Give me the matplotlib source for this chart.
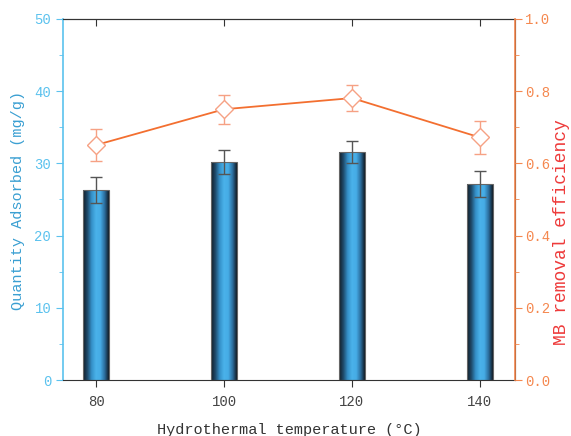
import numpy as np
import matplotlib
matplotlib.use("Agg")
import matplotlib.pyplot as plt
from matplotlib.colors import LinearSegmentedColormap

temps = [80, 100, 120, 140]
qty = [26.3, 30.2, 31.6, 27.2]
qty_err = [1.8, 1.7, 1.5, 1.8]
eff = [0.651, 0.750, 0.781, 0.672]
eff_err = [0.045, 0.040, 0.036, 0.045]
xticklabels = ["80", "100", "120", "140"]

FONT = "Liberation Mono"
plt.rcParams['font.family'] = [FONT, 'DejaVu Sans']

blue_ax = "#5bc2ee"
blue_lab = "#3a9fd2"
orange_ax = "#f5884f"
red_lab = "#ee3b3b"
line_col = "#f36f30"
mk_col = "#f6a184"

fig = plt.figure(figsize=(5.71, 4.36), dpi=100)
ax = fig.add_axes([63/571, 1-380/436, (515-63)/571, (380-19)/436])

bw = 4.0
bars = ax.bar(temps, qty, width=bw, color="none", edgecolor="#666666", linewidth=0.8, zorder=3)
cmap = LinearSegmentedColormap.from_list("g", ["#101a24", "#1f4a6a", "#3590c8", "#4ab2ea", "#46ace6", "#2c6e9e", "#101a24"])
grad = np.linspace(0, 1, 256).reshape(1, -1)
for b in bars:
    x0, w, h = b.get_x(), b.get_width(), b.get_height()
    im = ax.imshow(grad, cmap=cmap, aspect="auto", extent=[x0, x0 + w, 0, h], zorder=2)
    im.set_clip_path(b)
ax.errorbar(temps, qty, yerr=qty_err, fmt="none", ecolor="#555555", elinewidth=1, capsize=4, capthick=1, zorder=4)

ax.set_xlim(74.8, 145.5)
ax.set_ylim(0, 50)
ax.set_xticks(temps)
ax.set_xticklabels(xticklabels, fontsize=10, color="#444444")
ax.set_yticks(range(0, 51, 10))
ax.set_yticks(range(5, 50, 10), minor=True)
ax.tick_params(axis="y", which="both", colors=blue_ax, labelsize=10, direction="out")
ax.tick_params(axis="y", which="major", length=5)
ax.tick_params(axis="y", which="minor", length=3)
ax.tick_params(axis="x", direction="out", length=5, color="#333333", pad=6)
ax.spines["left"].set_color(blue_ax)
ax.spines["left"].set_linewidth(1.2)
ax.spines["bottom"].set_color("#333333")
ax.spines["top"].set_color("#333333")
for lab in ax.get_yticklabels():
    lab.set_color(blue_ax)
ax.set_ylabel("Quantity Adsorbed (mg/g)", fontsize=11, color=blue_lab)
ax.yaxis.set_label_coords(-0.084, 0.496)
ax.set_xlabel("Hydrothermal temperature (°C)", fontsize=11, color="#333333", labelpad=10)

# top ticks inward
secx = ax.secondary_xaxis("top")
secx.set_xticks(temps)
secx.set_xticklabels([])
secx.tick_params(direction="in", length=5, color="#333333")
secx.spines["top"].set_color("#333333")

ax2 = ax.twinx()
ax2.set_ylim(0, 1.0)
ax2.errorbar(temps, eff, yerr=eff_err, fmt="none", ecolor=mk_col, elinewidth=1, capsize=4, capthick=1, zorder=3)
ax2.plot(temps, eff, color=line_col, linewidth=1.3, zorder=4)
ax2.plot(temps, eff, linestyle="none", marker="D", markersize=9.5, markerfacecolor="white",
         markeredgecolor=mk_col, markeredgewidth=1, zorder=5)
ax2.set_yticks(np.arange(0, 1.01, 0.2))
ax2.set_yticks(np.arange(0.1, 1.0, 0.2), minor=True)
ax2.set_yticklabels(["0.0", "0.2", "0.4", "0.6", "0.8", "1.0"])
ax2.tick_params(axis="y", which="both", colors=orange_ax, labelsize=10, direction="out", pad=2)
ax2.tick_params(axis="y", which="major", length=5)
ax2.tick_params(axis="y", which="minor", length=3)
for lab in ax2.get_yticklabels():
    lab.set_color(orange_ax)
ax2.spines["right"].set_color(orange_ax)
ax2.spines["right"].set_linewidth(1.2)
ax2.spines["left"].set_visible(False)
ax2.spines["top"].set_visible(False)
ax2.spines["bottom"].set_visible(False)
ax2.set_ylabel("MB removal efficiency", fontsize=13, color=red_lab)
ax2.yaxis.set_label_coords(1.085, 0.41)

fig.savefig("out.png", dpi=100)
